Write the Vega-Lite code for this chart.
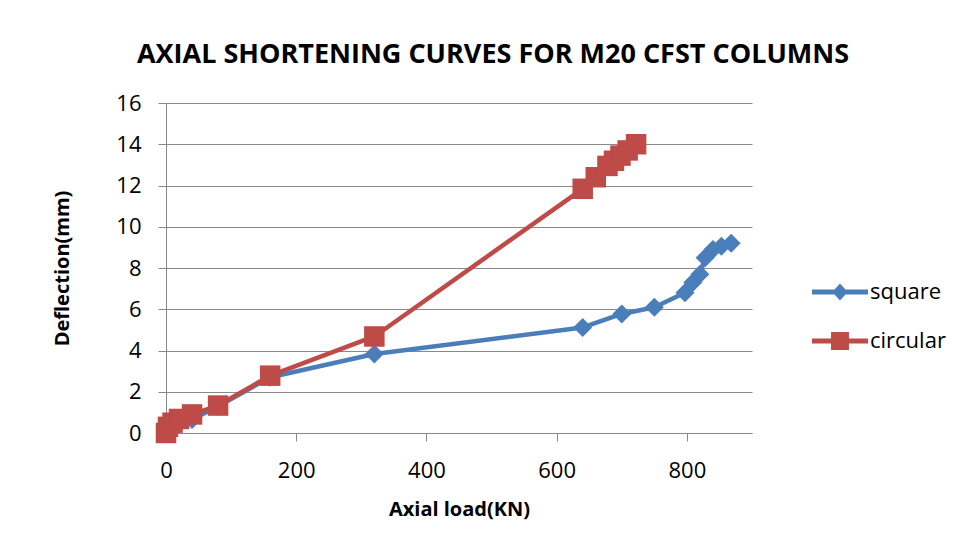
{
  "$schema": "https://vega.github.io/schema/vega-lite/v6.json",
  "width": 586,
  "height": 330,
  "autosize": "none",
  "padding": {"left": 166, "top": 103, "right": 211, "bottom": 118},
  "background": "white",
  "title": {
    "text": "AXIAL SHORTENING CURVES FOR M20 CFST COLUMNS",
    "font": "Open Sans",
    "fontSize": 27,
    "fontWeight": "bold",
    "color": "black",
    "anchor": "middle",
    "frame": "group",
    "baseline": "middle",
    "dx": 34,
    "offset": 10
  },
  "data": {
    "values": [
      {"series": "square", "load": 0, "deflection": 0},
      {"series": "square", "load": 10, "deflection": 0.3},
      {"series": "square", "load": 20, "deflection": 0.45},
      {"series": "square", "load": 40, "deflection": 0.65},
      {"series": "square", "load": 80, "deflection": 1.3},
      {"series": "square", "load": 160, "deflection": 2.7},
      {"series": "square", "load": 320, "deflection": 3.83},
      {"series": "square", "load": 640, "deflection": 5.12},
      {"series": "square", "load": 700, "deflection": 5.77},
      {"series": "square", "load": 750, "deflection": 6.1},
      {"series": "square", "load": 797, "deflection": 6.8},
      {"series": "square", "load": 809, "deflection": 7.3},
      {"series": "square", "load": 820, "deflection": 7.7},
      {"series": "square", "load": 828, "deflection": 8.5},
      {"series": "square", "load": 840, "deflection": 8.9},
      {"series": "square", "load": 853, "deflection": 9.05},
      {"series": "square", "load": 868, "deflection": 9.2},
      {"series": "circular", "load": 0, "deflection": 0},
      {"series": "circular", "load": 3, "deflection": 0.3},
      {"series": "circular", "load": 10, "deflection": 0.5},
      {"series": "circular", "load": 20, "deflection": 0.68},
      {"series": "circular", "load": 40, "deflection": 0.9},
      {"series": "circular", "load": 80, "deflection": 1.33},
      {"series": "circular", "load": 160, "deflection": 2.78},
      {"series": "circular", "load": 320, "deflection": 4.68},
      {"series": "circular", "load": 640, "deflection": 11.84},
      {"series": "circular", "load": 660, "deflection": 12.4},
      {"series": "circular", "load": 678, "deflection": 12.95},
      {"series": "circular", "load": 688, "deflection": 13.2},
      {"series": "circular", "load": 698, "deflection": 13.45},
      {"series": "circular", "load": 709, "deflection": 13.7},
      {"series": "circular", "load": 722, "deflection": 14.0}
    ]
  },
  "encoding": {
    "x": {
      "field": "load",
      "type": "quantitative",
      "scale": {"domain": [0, 900], "nice": false, "zero": false},
      "axis": {
        "title": "Axial load(KN)",
        "values": [0, 200, 400, 600, 800],
        "grid": false,
        "labelFlush": false,
        "labelBaseline": "middle",
        "labelPadding": 29,
        "titleX": 293,
        "titleY": 76,
        "titleBaseline": "middle",
        "titleAlign": "center"
      }
    },
    "y": {
      "field": "deflection",
      "type": "quantitative",
      "scale": {"domain": [0, 16], "nice": false},
      "axis": {
        "title": "Deflection(mm)",
        "values": [0, 2, 4, 6, 8, 10, 12, 14, 16],
        "grid": true,
        "labelFlush": false,
        "labelPadding": 17,
        "titleX": -104,
        "titleY": 165,
        "titleAngle": 270,
        "titleBaseline": "middle",
        "titleAlign": "center"
      }
    },
    "color": {
      "field": "series",
      "type": "nominal",
      "scale": {"domain": ["square", "circular"], "range": ["#4A7EBB", "#BE4B48"]},
      "legend": {
        "title": null,
        "orient": "none",
        "legendX": 660,
        "legendY": 175,
        "padding": 0,
        "symbolSize": 784,
        "labelFont": "Open Sans",
        "labelFontSize": 22,
        "labelColor": "black",
        "labelOffset": 16,
        "rowPadding": 24,
        "encoding": {
          "symbols": {
            "shape": {"value": {"expr": "datum.value === 'square' ? 'M-2,-0.17L2,-0.17L2,0.17L-2,0.17Z M0,-0.6L0.55,0L0,0.6L-0.55,0Z' : 'M-2,-0.17L2,-0.17L2,0.17L-2,0.17Z M-0.64,-0.64L0.64,-0.64L0.64,0.64L-0.64,0.64Z'"}},
            "fill": {"value": {"expr": "datum.value === 'square' ? '#4A7EBB' : '#BE4B48'"}},
            "stroke": {"value": "transparent"},
            "size": {"value": 784},
            "fillOpacity": {"value": 1},
            "opacity": {"value": 1},
            "strokeWidth": {"value": 0}
          }
        }
      }
    }
  },
  "layer": [
    {
      "mark": {"type": "line", "strokeWidth": 4.5, "strokeJoin": "round"}
    },
    {
      "transform": [{"filter": "datum.series === 'square'"}],
      "mark": {"type": "point", "filled": true, "opacity": 1, "shape": "diamond", "size": 360}
    },
    {
      "transform": [{"filter": "datum.series === 'circular'"}],
      "mark": {"type": "point", "filled": true, "opacity": 1, "shape": "square", "size": 420}
    }
  ],
  "config": {
    "font": "Open Sans",
    "view": {"stroke": null},
    "axis": {
      "domainColor": "#898989",
      "domainWidth": 1,
      "tickColor": "#898989",
      "tickSize": 8,
      "tickWidth": 1,
      "gridColor": "#898989",
      "gridWidth": 1,
      "gridOpacity": 1,
      "labelFont": "Open Sans",
      "labelFontSize": 22,
      "labelColor": "black",
      "titleFont": "Open Sans",
      "titleFontSize": 20,
      "titleFontWeight": "bold",
      "titleColor": "black"
    }
  }
}
